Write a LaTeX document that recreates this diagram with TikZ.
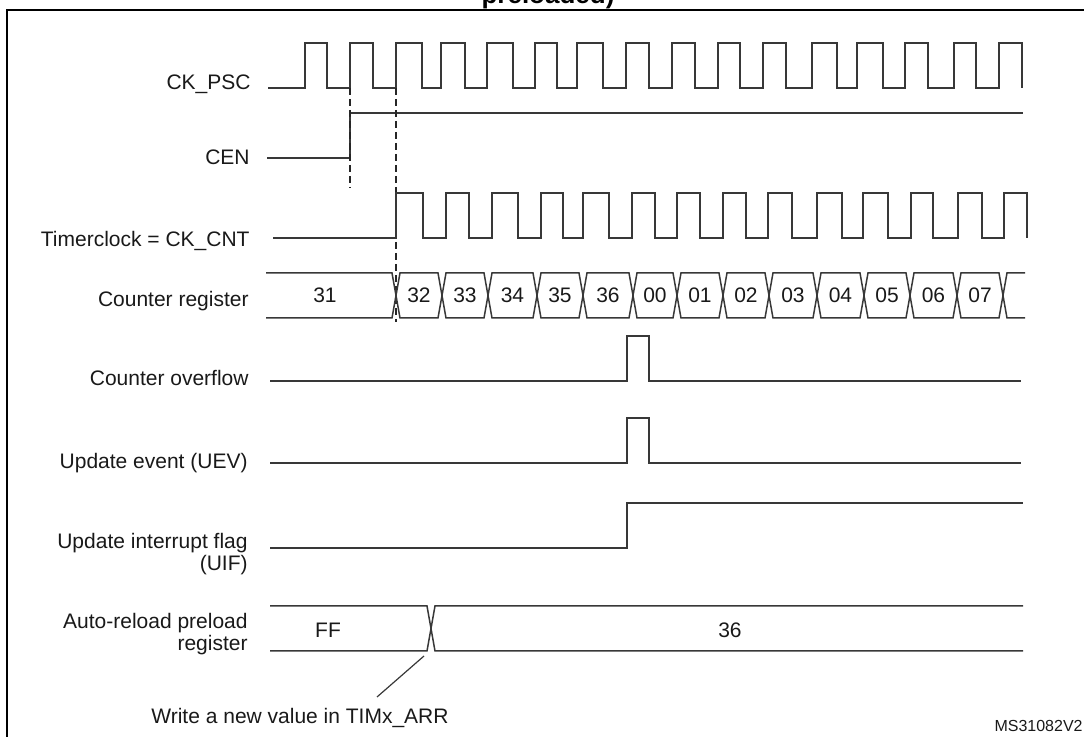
\documentclass[tikz,border=0pt]{standalone}
\usepackage{fontspec}
\setmainfont{Liberation Sans}
\begin{document}
\begin{tikzpicture}[x=0.5pt,y=-0.5pt,
  sig/.style={draw=black!78, line width=0.75pt, line join=miter},
  dashline/.style={draw=black!85, line width=0.75pt, dash pattern=on 3.5pt off 2pt},
  frame/.style={draw=black, line width=1.1pt},
  lbl/.style={font=\fontsize{10.5}{10.5}\selectfont, inner sep=0pt, text=black!90},
  lbl2/.style={font=\fontsize{10.5}{11}\selectfont, inner sep=0pt, align=right, text=black!90},
  val/.style={font=\fontsize{10.5}{10.5}\selectfont, inner sep=0pt, text=black!90},
  tag/.style={font=\fontsize{8}{8}\selectfont, inner sep=0pt, text=black!90}]
\useasboundingbox (0,0) rectangle (1084,737);

% frame and cut-off title
\draw[frame] (7,760) -- (7,10) -- (1100,10);
\node[font=\bfseries\fontsize{13}{15}\selectfont, anchor=base, inner sep=0pt] (title) at (548,4) {preloaded)};

% labels
\node[lbl, anchor=base east] (lpsc) at (251,90) {CK\_PSC};
\node[lbl, anchor=base east] (lcen) at (250,165) {CEN};
\node[lbl, anchor=base east] (lcnt) at (250,247) {Timerclock = CK\_CNT};
\node[lbl, anchor=base east] (lreg) at (249,307) {Counter register};
\node[lbl, anchor=base east] (lovf) at (249,386) {Counter overflow};
\node[lbl, anchor=base east] (luev) at (248,469) {Update event (UEV)};
\node[lbl2, anchor=east] (luif) at (248,554) {Update interrupt flag\\(UIF)};
\node[lbl2, anchor=east] (larr) at (248,634) {Auto-reload preload\\register};

% CK_PSC
\draw[sig] (268,88)
  \foreach \r/\f in {305/327,350/373,396/422,441/465,487/513,535/557,577/603,626/649,672/695,718/740,763/786,812/837,857/883,905/928,954/976,999/1022}
  { -| (\r,43) -| (\f,88) };

% CEN
\draw[sig] (267,158) -| (350,113) -- (1023,113);

% dashed markers
\draw[dashline] (350,88) -- (350,188);
\draw[dashline] (396,88) -- (396,322);

% Timerclock = CK_CNT
\draw[sig] (273,238)
  \foreach \r/\f in {396/423,446/469,492/518,541/563,583/609,632/655,677/700,723/746,768/792,817/842,863/888,911/933,958/982,1004/1027}
  { -| (\r,193) -| (\f,238) };

% Counter register
\draw[sig] (266,273) -- (392,273) -- (396,295.5) -- (392,318) -- (266,318);
\node[val] (v31) at (325,295.5) {31};
\foreach \a/\b/\t in {396/442/32,442/488/33,488/537/34,537/583/35,583/633/36,633/677/00,677/723/01,723/769/02,769/817/03,817/864/04,864/910/05,910/957/06,957/1003/07}
{
  \draw[sig] (\a,295.5) -- (\a+4,273) -- (\b-4,273) -- (\b,295.5) -- (\b-4,318) -- (\a+4,318) -- cycle;
  \node[val] (v\t) at ({(\a+\b)/2},295.5) {\t};
}
\draw[sig] (1025,273) -- (1007,273) -- (1003,295.5) -- (1007,318) -- (1025,318);

% Counter overflow
\draw[sig] (270,381) -| (627,336) -| (649,381) -- (1021,381);

% Update event
\draw[sig] (270,463) -| (627,418) -| (649,463) -- (1021,463);

% UIF
\draw[sig] (270,548) -| (627,503) -- (1023,503);

% Auto-reload preload register
\draw[sig] (270,606) -- (427,606) -- (435,651) -- (1023,651);
\draw[sig] (270,651) -- (427,651) -- (435,606) -- (1023,606);
\node[val] (vff) at (328,630) {FF};
\node[val] (v36b) at (730,630) {36};

% annotation
\node[lbl, anchor=base] (note) at (300,724) {Write a new value in TIMx\_ARR};
\coordinate (nstart) at (377,697);
\coordinate (wr) at (424,656);
\draw[sig, line width=0.6pt] (nstart) -- (wr);

\node[tag, anchor=base east] (ms) at (1083,732) {MS31082V2};
\end{tikzpicture}
\end{document}
